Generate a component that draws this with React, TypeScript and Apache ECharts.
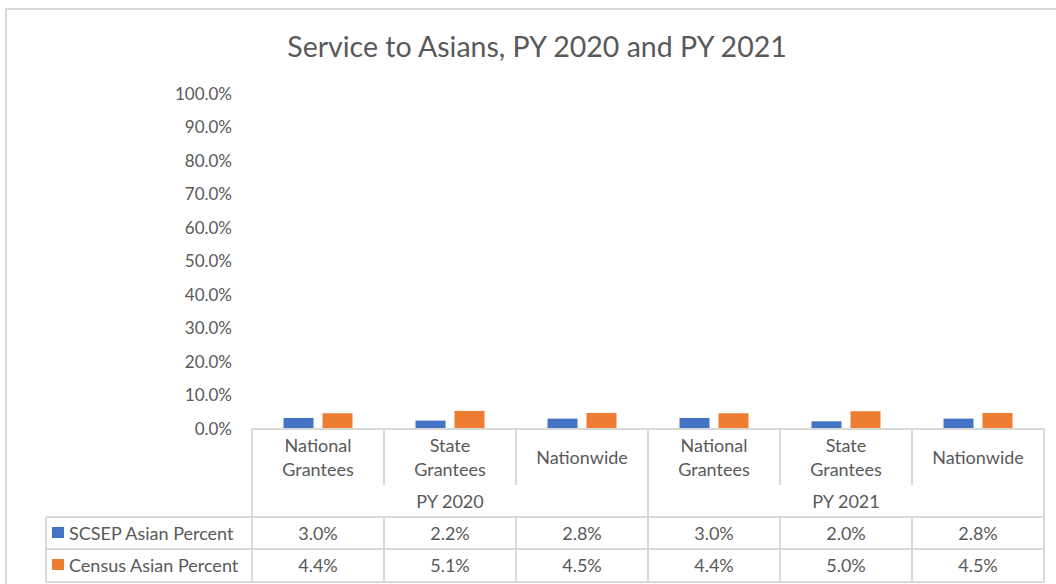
import React, { useEffect, useRef } from 'react';
import * as echarts from 'echarts';

const titleText = 'Service to Asians, PY 2020 and PY 2021';
const groups = ['PY 2020', 'PY 2021'];
const subCategories = ['National Grantees', 'State Grantees', 'Nationwide'];
const seriesNames = ['SCSEP Asian Percent', 'Census Asian Percent'];
const scsepValues = [3.0, 2.2, 2.8, 3.0, 2.0, 2.8];
const censusValues = [4.4, 5.1, 4.5, 4.4, 5.0, 4.5];
const yMin = 0;
const yMax = 100;
const yInterval = 10;
const colors = ['#4472C4', '#ED7D31'];

const FONT = 'Lato, "Liberation Sans", sans-serif';
const TEXT = '#595959';
const LINE = '#D9D9D9';

const categories = groups.flatMap((g) => subCategories.map((s) => `${g}|${s}`));
const seriesValues = [scsepValues, censusValues];

export default function App() {
  const ref = useRef<HTMLDivElement>(null);
  useEffect(() => {
    document.body.style.margin = '0';
    const chart = echarts.init(ref.current!, null, { renderer: 'svg' });
    const gridLeft = 252;
    const gridRight = 12;
    const gridTop = 93;
    const gridBottom = 156;
    chart.setOption({
      animation: false,
      color: colors,
      grid: { left: gridLeft, right: gridRight, top: gridTop, bottom: gridBottom, containLabel: false },
      xAxis: {
        type: 'category',
        data: categories,
        axisLine: { show: false },
        axisTick: { show: false },
        axisLabel: { show: false },
      },
      yAxis: {
        type: 'value',
        min: yMin,
        max: yMax,
        interval: yInterval,
        axisLine: { show: false },
        axisTick: { show: false },
        splitLine: { show: false },
        axisLabel: {
          formatter: (v: number) => `${v.toFixed(1)}%`,
          color: TEXT,
          fontSize: 17,
          fontFamily: FONT,
          margin: 20,
        },
      },
      series: seriesNames.map((name, i) => ({
        name,
        type: 'bar',
        data: seriesValues[i],
        barWidth: 30,
        barGap: '30%',
        itemStyle: { color: colors[i] },
      })),
    });

    const n = categories.length;
    const c0 = chart.convertToPixel({ xAxisIndex: 0 }, 0) as number;
    const c1 = chart.convertToPixel({ xAxisIndex: 0 }, 1) as number;
    const colW = c1 - c0;
    const axisY = chart.convertToPixel({ yAxisIndex: 0 }, yMin) as number;
    const edge = (i: number) => c0 - colW / 2 + i * colW;
    const left = edge(0);
    const right = edge(n);
    const legendLeft = 46;

    const yTop = axisY + 1;
    const yInnerStop = axisY + 57;
    const yGroupBottom = axisY + 89;
    const yRow1Bottom = axisY + 121;
    const yRow2Bottom = axisY + 154;

    const lineEl = (x1: number, y1: number, x2: number, y2: number) => ({
      type: 'line',
      silent: true,
      shape: { x1, y1, x2, y2 },
      style: { stroke: LINE, lineWidth: 2 },
    });
    const textEl = (x: number, y: number, text: string, align = 'center') => ({
      type: 'text',
      silent: true,
      x,
      y,
      style: {
        text,
        fill: TEXT,
        font: `18px ${FONT}`,
        align,
        verticalAlign: 'middle',
      },
    });

    const graphics: any[] = [];
    graphics.push({
      type: 'rect',
      silent: true,
      shape: { x: 6, y: 9, width: 1100, height: 620 },
      style: { fill: 'none', stroke: LINE, lineWidth: 2 },
    });
    graphics.push({
      type: 'text',
      silent: true,
      x: 537,
      y: 46,
      style: {
        text: titleText,
        fill: TEXT,
        font: `28.5px ${FONT}`,
        align: 'center',
        verticalAlign: 'middle',
      },
    });

    graphics.push(lineEl(left, yTop, right, yTop));
    graphics.push(lineEl(legendLeft, yGroupBottom, right, yGroupBottom));
    graphics.push(lineEl(legendLeft, yRow1Bottom, right, yRow1Bottom));
    graphics.push(lineEl(legendLeft, yRow2Bottom, right, yRow2Bottom));
    graphics.push(lineEl(legendLeft, yGroupBottom, legendLeft, yRow2Bottom));

    for (let i = 0; i <= n; i++) {
      const x = edge(i);
      if (i % subCategories.length === 0) {
        graphics.push(lineEl(x, yTop, x, yRow2Bottom));
      } else {
        graphics.push(lineEl(x, yTop, x, yInnerStop));
        graphics.push(lineEl(x, yGroupBottom, x, yRow2Bottom));
      }
    }

    categories.forEach((cat, i) => {
      const x = chart.convertToPixel({ xAxisIndex: 0 }, i) as number;
      const name = cat.split('|')[1];
      const parts = name.split(' ');
      if (parts.length > 1) {
        graphics.push(textEl(x, axisY + 17, parts[0]));
        graphics.push(textEl(x, axisY + 41, parts.slice(1).join(' ')));
      } else {
        graphics.push(textEl(x, axisY + 29, name));
      }
      graphics.push(textEl(x, axisY + 105, `${scsepValues[i].toFixed(1)}%`));
      graphics.push(textEl(x, axisY + 137, `${censusValues[i].toFixed(1)}%`));
    });

    groups.forEach((g, gi) => {
      const x = (edge(gi * subCategories.length) + edge((gi + 1) * subCategories.length)) / 2;
      graphics.push(textEl(x, axisY + 73, g));
    });

    seriesNames.forEach((name, i) => {
      const yc = axisY + 105 + i * 32;
      graphics.push({
        type: 'rect',
        silent: true,
        shape: { x: 52, y: yc - 6, width: 12, height: 11 },
        style: { fill: colors[i] },
      });
      graphics.push(textEl(69, yc, name, 'left'));
    });

    chart.setOption({ graphic: graphics });
    return () => chart.dispose();
  }, []);
  return <div ref={ref} style={{ width: 1056, height: 584 }} />;
}
